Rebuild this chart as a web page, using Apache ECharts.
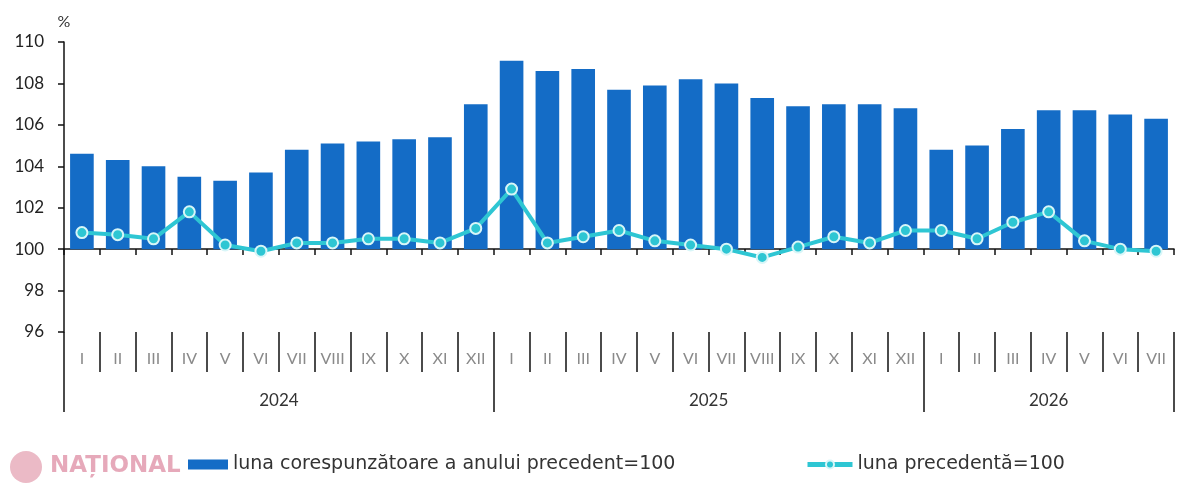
<!DOCTYPE html>
<html>
<head>
<meta charset="utf-8">
<script src="https://cdn.jsdelivr.net/npm/echarts@6/dist/echarts.min.js"></script>
<style>
html,body{margin:0;padding:0;background:#fff;}
#chart{width:1200px;height:490px;}
</style>
</head>
<body>
<div id="chart"></div>
<script>
const months = ['I','II','III','IV','V','VI','VII','VIII','IX','X','XI','XII',
  'I','II','III','IV','V','VI','VII','VIII','IX','X','XI','XII',
  'I','II','III','IV','V','VI','VII'];
const years = ['2024','2025','2026'];
const yearStart = [0, 12, 24];
const sameMonthPrevYear = [104.6,104.3,104.0,103.5,103.3,103.7,104.8,105.1,105.2,105.3,105.4,107.0,
  109.1,108.6,108.7,107.7,107.9,108.2,108.0,107.3,106.9,107.0,107.0,106.8,
  104.8,105.0,105.8,106.7,106.7,106.5,106.3];
const prevMonth = [100.8,100.7,100.5,101.8,100.2,99.9,100.3,100.3,100.5,100.5,100.3,101.0,
  102.9,100.3,100.6,100.9,100.4,100.2,100.0,99.6,100.1,100.6,100.3,100.9,
  100.9,100.5,101.3,101.8,100.4,100.0,99.9];
const seriesNames = ['luna corespunzătoare a anului precedent=100', 'luna precedentă=100'];
const yTicks = {min: 96, max: 110, interval: 2, base: 100};

// year label position: middle index of each year block
const yearLabelAt = {};
yearStart.forEach((s, k) => {
  const e = k + 1 < yearStart.length ? yearStart[k + 1] : months.length;
  const len = e - s;
  const mid = s + Math.floor((len - 1) / 2);
  yearLabelAt[mid] = {text: years[k], even: len % 2 === 0};
});

const FONT = 'Lato';
const LEGEND_FONT = 'DejaVu Sans';
const chart = echarts.init(document.getElementById('chart'), null, {renderer: 'canvas'});
chart.setOption({
  animation: false,
  backgroundColor: '#fff',
  textStyle: {fontFamily: FONT},
  grid: {left: 64, right: 26, top: 42, bottom: 158, containLabel: false},
  legend: [
    {
      left: 183, top: 450,
      itemWidth: 40, itemHeight: 10,
      textStyle: {fontFamily: LEGEND_FONT, fontSize: 19, color: '#333'},
      data: [{name: seriesNames[0], icon: 'rect'}]
    },
    {
      left: 800, top: 450,
      itemWidth: 45, itemHeight: 10,
      lineStyle: {width: 5},
      textStyle: {fontFamily: LEGEND_FONT, fontSize: 19, color: '#333'},
      data: [{name: seriesNames[1]}]
    }
  ],
  graphic: [
    {type: 'circle', left: 10, top: 451, shape: {r: 16}, style: {fill: '#e6a9b8', opacity: 0.8}, silent: true},
    {type: 'text', left: 50, top: 455, style: {text: 'NAȚIONAL', fontFamily: 'DejaVu Sans', fontWeight: 'bold', fontSize: 23, fill: '#e3a0b3', opacity: 0.9}, silent: true}
  ],
  yAxis: {
    type: 'value',
    min: yTicks.min, max: yTicks.max, interval: yTicks.interval,
    startValue: yTicks.base,
    name: '%',
    nameLocation: 'end',
    nameGap: 12,
    nameTextStyle: {fontFamily: FONT, fontSize: 16, color: '#333', align: 'center'},
    axisLine: {show: true, lineStyle: {color: '#111', width: 1.5}},
    axisTick: {show: true, inside: false, length: 6, lineStyle: {color: '#111', width: 1.5}},
    axisLabel: {fontFamily: FONT, fontSize: 17, color: '#222', margin: 20},
    splitLine: {show: false}
  },
  xAxis: [
    { // axis line at 100 with boundary ticks
      type: 'category', data: months, position: 'bottom', offset: -83,
      boundaryGap: true,
      axisLine: {show: true, onZero: false, lineStyle: {color: '#111', width: 1.5}},
      axisTick: {show: true, inside: false, length: 6, interval: 0, lineStyle: {color: '#111', width: 1.5}},
      axisLabel: {show: false},
      splitLine: {show: false}
    },
    { // month labels with separators
      type: 'category', data: months, position: 'bottom', offset: 0,
      boundaryGap: true,
      axisLine: {show: false, onZero: false},
      axisTick: {show: true, inside: false, length: 40, interval: 0, lineStyle: {color: '#111', width: 1.5}},
      axisLabel: {show: true, interval: 0, fontFamily: FONT, fontSize: 16, color: '#8a8a8a', margin: 19},
      splitLine: {show: false}
    },
    { // year labels with separators
      type: 'category', data: months, position: 'bottom', offset: 0,
      boundaryGap: true,
      axisLine: {show: false, onZero: false},
      axisTick: {show: true, inside: false, length: 80,
        interval: function (idx) { return yearStart.indexOf(idx) >= 0; },
        lineStyle: {color: '#111', width: 1.5}},
      axisLabel: {
        show: true,
        interval: function (idx) { return yearLabelAt[idx] !== undefined; },
        formatter: function (v, idx) {
          const y = yearLabelAt[idx];
          if (!y) return '';
          return y.even ? '{s|' + y.text + '}' : '{n|' + y.text + '}';
        },
        margin: 60,
        rich: {
          s: {fontFamily: FONT, fontSize: 17, color: '#333', padding: [0, 0, 0, 36]},
          n: {fontFamily: FONT, fontSize: 17, color: '#333'}
        }
      },
      splitLine: {show: false}
    }
  ],
  series: [
    {
      name: seriesNames[0],
      type: 'bar',
      xAxisIndex: 0,
      data: sameMonthPrevYear,
      barCategoryGap: '34%',
      itemStyle: {color: '#146cc6'},
      z: 2
    },
    {
      name: seriesNames[1],
      type: 'line',
      xAxisIndex: 0,
      data: prevMonth,
      symbol: 'circle',
      symbolSize: 11,
      lineStyle: {color: '#2ec6d3', width: 4},
      itemStyle: {color: '#2ec6d3', borderColor: '#d8f6f8', borderWidth: 2},
      z: 3
    }
  ]
});
</script>
</body>
</html>
